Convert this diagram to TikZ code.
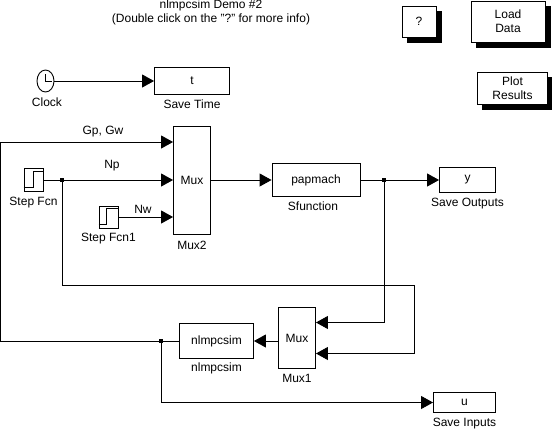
\documentclass[tikz,border=0pt]{standalone}
\usepackage{fontspec}
\setmainfont{Liberation Sans}
\usetikzlibrary{arrows.meta, positioning, shapes.geometric}

\begin{document}
\begin{tikzpicture}[
    x=1pt, y=-1pt,
    node distance=2pt,
    every node/.style={font=\fontsize{12}{14}\selectfont},
    block/.style={rectangle, draw, line width=0.9pt, inner sep=0pt, align=center},
    button/.style={block, fill=white, preaction={draw=black, fill=black, line width=0.9pt, transform canvas={xshift=5pt, yshift=-5pt}}},
    caption/.style={inner sep=0pt, align=center},
    wire/.style={line width=0.9pt},
    arrow/.style={wire, -{Triangle[length=12pt, width=13pt]}},
    junction/.style={rectangle, fill=black, inner sep=0pt, minimum size=3.5pt}
]
\useasboundingbox (0,0) rectangle (552,429);

% title and buttons
\node[caption] (title) at (211,12) {nlmpcsim Demo \#2\\(Double click on the "?" for more info)};
\node[button, minimum width=34pt, minimum height=31pt] (help) at (419,21.5) {?};
\node[button, minimum width=74pt, minimum height=41pt] (load) at (508,21.5) {Load\\Data};
\node[button, minimum width=70pt, minimum height=32pt] (plot) at (512.5,88.5) {Plot\\Results};

% blocks
\node[draw, ellipse, line width=0.9pt, minimum width=17pt, minimum height=22pt, inner sep=0pt] (clock) at (45.5,81) {};
\node[block, minimum width=75pt, minimum height=27pt] (savet) at (192,81) {t};
\node[block, minimum width=37pt, minimum height=108pt] (mux2) at (192,180) {Mux};
\node[block, minimum width=19pt, minimum height=23pt] (step) at (33.5,180) {};
\node[block, minimum width=19pt, minimum height=22pt] (step1) at (108.5,217) {};
\node[block, minimum width=88pt, minimum height=33pt] (pap) at (316,180) {papmach};
\node[block, minimum width=56pt, minimum height=25pt] (savey) at (467.5,180) {y};
\node[block, minimum width=37pt, minimum height=61pt] (mux1) at (297,338) {Mux};
\node[block, minimum width=74pt, minimum height=35pt] (nlm) at (216.5,341) {nlmpcsim};
\node[block, minimum width=62pt, minimum height=20pt] (saveu) at (464.5,402.5) {u};

% block captions
\node[caption, below=5.5pt of clock, xshift=1.5pt] (clockcap) {Clock};
\node[caption, below=5pt of savet] (savetcap) {Save Time};
\node[caption, below=6pt of mux2] (mux2cap) {Mux2};
\node[caption, below=5pt of step] (stepcap) {Step Fcn};
\node[caption, below=4pt of step1] (step1cap) {Step Fcn1};
\node[caption, below=5pt of pap, xshift=-3pt] (papcap) {Sfunction};
\node[caption, below=5pt of savey] (saveycap) {Save Outputs};
\node[caption, below=5pt of mux1] (mux1cap) {Mux1};
\node[caption, below=4pt of nlm] (nlmcap) {nlmpcsim};
\node[caption, below=5pt of saveu] (saveucap) {Save Inputs};

% clock hands and step icons
\draw[wire] (clock.center) ++(0,-7) -- (clock.center) -- ++(6,0);
\draw[wire] (step.south west) ++(0,-4.5) -- ++(10,0) -- ++(0,-16) -- ++(9,0);
\draw[wire] (step1.south west) ++(0,-4) -- ++(8,0) -- ++(0,-16) -- ++(11,0);

% junctions and corners
\node[junction] (j1) at (62,180) {};
\node[junction] (j2) at (384,180) {};
\node[junction] (j3) at (161,341) {};
\coordinate (c1) at (0.5,341);
\coordinate (c2) at (0.5,142);
\coordinate (m1) at (mux2.west |- c2);
\coordinate (c3) at (62,285.5);
\coordinate (c4) at (414.5,285.5);
\coordinate (c5) at (414.5,353.5);
\coordinate (m2) at (mux1.east |- c5);
\coordinate (c6) at (384,322.5);
\coordinate (m3) at (mux1.east |- c6);
\coordinate (c7) at (161,402.5);
\coordinate (m4) at (mux2.west |- step1);

% wires
\draw[arrow] (clock) -- (savet);
\draw[wire] (nlm) -- (j3);
\draw[wire] (j3) -- (c1) -- (c2);
\draw[arrow] (c2) -- (m1);
\draw[wire] (step) -- (j1);
\draw[arrow] (j1) -- (mux2);
\draw[arrow] (step1) -- (m4);
\draw[arrow] (mux2) -- (pap);
\draw[wire] (pap) -- (j2);
\draw[arrow] (j2) -- (savey);
\draw[arrow] (j1) -- (c3) -- (c4) -- (c5) -- (m2);
\draw[arrow] (j2) -- (c6) -- (m3);
\draw[arrow] (mux1.west |- nlm) -- (nlm);
\draw[arrow] (j3) -- (c7) -- (saveu);

% signal labels
\node[caption] (gp) at (103,132) {Gp, Gw};
\node[caption] (np) at (112,166) {Np};
\node[caption] (nw) at (143,209) {Nw};
\end{tikzpicture}
\end{document}
